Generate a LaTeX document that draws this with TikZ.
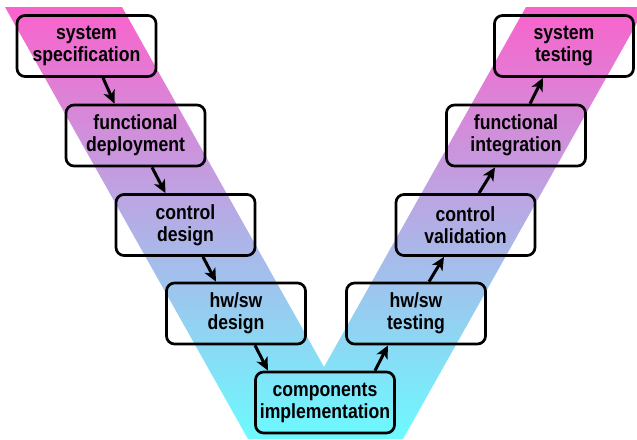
\documentclass[tikz,border=0pt]{standalone}
\usepackage{fontspec}
\setmainfont[FakeStretch=0.86]{Liberation Sans}
\usetikzlibrary{arrows.meta}
\definecolor{topc}{RGB}{250,98,204}
\definecolor{botc}{RGB}{108,250,255}
\begin{document}
\begin{tikzpicture}[x=1pt,y=-1pt,
 box/.style={draw,line width=2.7pt,rounded corners=8pt,minimum width=139pt,minimum height=61pt,align=center,inner sep=0pt,font=\fontsize{20.5}{22}\selectfont\bfseries,execute at begin node={\rule{0pt}{20pt}}},
 arr/.style={line width=3pt,-{Stealth[length=13pt,width=12pt,inset=3.5pt]}}]
\useasboundingbox (0,0) rectangle (637,439);
\begin{scope}
\clip (5,7) -- (122,7) -- (324,367) -- (526,7) -- (646,7) -- (403,439) -- (248,439) -- cycle;
\shade[top color=topc,bottom color=botc] (0,7) rectangle (650,439);
\end{scope}
\node[box] (ss) at (86.5,46) {system\\specification};
\node[box] (fd) at (135.5,135.5) {functional\\deployment};
\node[box] (cd) at (185.5,225) {control\\design};
\node[box] (hd) at (236,313.5) {hw/sw\\design};
\node[box] (ci) at (325,402.5) {components\\implementation};
\node[box] (ht) at (416,313.5) {hw/sw\\testing};
\node[box] (cv) at (465.5,225) {control\\validation};
\node[box] (fi) at (516,135.5) {functional\\integration};
\node[box] (st) at (564,46) {system\\testing};
\draw[arr] ([xshift=16.5pt]ss.south) -- ([xshift=-21pt]fd.north);
\draw[arr] ([xshift=16.5pt]fd.south) -- ([xshift=-20pt]cd.north);
\draw[arr] ([xshift=17.5pt]cd.south) -- ([xshift=-20pt]hd.north);
\draw[arr] ([xshift=19pt]hd.south) -- ([xshift=-57pt]ci.north);
\draw[arr] ([xshift=50pt]ci.north) -- ([xshift=-28pt]ht.south);
\draw[arr] ([xshift=13pt]ht.north) -- ([xshift=-21.5pt]cv.south);
\draw[arr] ([xshift=13.5pt]cv.north) -- ([xshift=-21pt]fi.south);
\draw[arr] ([xshift=14pt]fi.north) -- ([xshift=-21pt]st.south);
\end{tikzpicture}
\end{document}
